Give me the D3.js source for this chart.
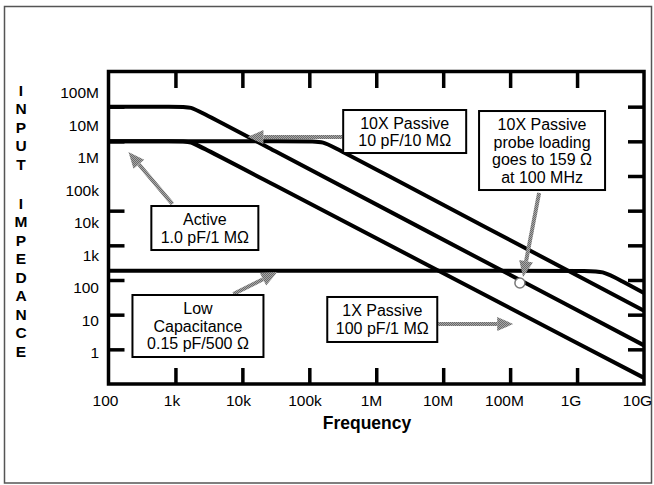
<!DOCTYPE html>
<html>
<head>
<meta charset="utf-8">
<script src="https://cdn.jsdelivr.net/npm/d3@7"></script>
<style>
body { margin: 0; background: #fff; }
svg { display: block; }
text { font-family: "Liberation Sans", Arial, sans-serif; }
</style>
</head>
<body>
<div id="chart"></div>
<script>
var width = 654;
var height = 485;

var plotLeft = 108.5;
var plotRight = 644;
var plotTop = 72;
var plotBottom = 384;
var tickLength = 16;

// axis values and labels
var freqTicks = [100, 1e3, 1e4, 1e5, 1e6, 1e7, 1e8, 1e9, 1e10];
var freqLabels = ["100", "1k", "10k", "100k", "1M", "10M", "100M", "1G", "10G"];
var freqInnerTicks = [1e3, 1e4, 1e5, 1e6, 1e7, 1e8, 1e9];

var impTicks = [1, 10, 100, 1e3, 1e4, 1e5, 1e6, 1e7, 1e8];
var impLabels = ["1", "10", "100", "1k", "10k", "100k", "1M", "10M", "100M"];
var impRightTicks = [1, 10, 100, 1e3, 1e4, 1e5, 1e6, 1e7];
var impLeftTicks = [1, 10, 100, 1e3, 1e4, 1e6, 1e7];

// curves: [frequency Hz, impedance ohm]
var passive10x = [[100, 1e7], [1.1e3, 1e7], [1.7e3, 1e7], [2.7e3, 6.2e6], [1e10, 1.3]];
var passive1x = [[100, 1e6], [1.1e3, 1e6], [1.7e3, 1e6], [2.7e3, 6.2e5], [1e10, 0.15]];
var activeProbe = [[100, 1e6], [1.0e5, 1e6], [1.6e5, 1e6], [2.6e5, 6.1e5], [1e10, 13]];
var lowCap = [[100, 185], [1.3e9, 185], [2.4e9, 185], [4.6e9, 94], [1e10, 42]];

// marked point on the 10X curve
var markedPoint = [1.4e8, 82];

// annotation boxes: text lines, centre [freq, ohm], box size in px
var boxLines = [
    ["10X Passive", "10 pF/10 M\u03A9"],
    ["10X Passive", "probe loading", "goes to 159 \u03A9", "at 100 MHz"],
    ["Active", "1.0 pF/1 M\u03A9"],
    ["Low", "Capacitance", "0.15 pF/500 \u03A9"],
    ["1X Passive", "100 pF/1 M\u03A9"]
];
var boxCentres = [[2.66e6, 1.92e6], [3.0e8, 5.43e5], [2.75e3, 3.16e3], [2.17e3, 4.71], [1.23e6, 7.26]];
var boxSizes = [[123, 43], [126, 79], [107, 44], [131, 62], [110, 45]];

// arrows: tail and tip in [freq, ohm]
var arrowTails = [[3.1e5, 1.33e6], [2.71e8, 3.24e4], [902, 1.56e4], [7.35e3, 39.5], [8.41e6, 5.38]];
var arrowTips = [[1.19e4, 1.33e6], [1.56e8, 122], [199, 4.92e5], [3.33e4, 170], [1.11e8, 5.38]];

var svg = d3.select("#chart").append("svg")
    .attr("width", width)
    .attr("height", height);

// dithered grey used by the arrows
var pattern = svg.append("defs").append("pattern")
    .attr("id", "dither")
    .attr("patternUnits", "userSpaceOnUse")
    .attr("width", 2)
    .attr("height", 2);
pattern.append("rect").attr("width", 2).attr("height", 2).attr("fill", "#a8a8a8");
pattern.append("rect").attr("width", 1).attr("height", 1).attr("fill", "#6a6a6a");
pattern.append("rect").attr("x", 1).attr("y", 1).attr("width", 1).attr("height", 1).attr("fill", "#6a6a6a");

// outer border
svg.append("rect")
    .attr("x", 4.5)
    .attr("y", 6.5)
    .attr("width", 647)
    .attr("height", 476.5)
    .attr("fill", "none")
    .attr("stroke", "#555")
    .attr("stroke-width", 1.5);

var x = d3.scaleLog().domain([100, 1e10]).range([plotLeft, plotRight]);
var y = d3.scaleLog().domain([0.1, 1e8]).range([plotBottom, plotTop]);

// label scales (the labels drift slightly from the ticks in the original)
var xLabel = d3.scaleLog().domain([100, 1e10]).range([105, 637]);
var yLabel = d3.scaleLog().domain([1, 1e8]).range([353, 93]);

var line = d3.line()
    .x(function (d) { return x(d[0]); })
    .y(function (d) { return y(d[1]); })
    .curve(d3.curveBasis);

[passive10x, passive1x, activeProbe, lowCap].forEach(function (curve) {
    svg.append("path")
        .datum(curve)
        .attr("d", line)
        .attr("fill", "none")
        .attr("stroke", "#000")
        .attr("stroke-width", 4);
});

function styleTicks(g) {
    g.select(".domain").remove();
    g.selectAll(".tick line").attr("stroke", "#000").attr("stroke-width", 3.5);
}

svg.append("g")
    .attr("transform", "translate(0," + plotBottom + ")")
    .call(d3.axisTop(x).tickValues(freqInnerTicks).tickSize(tickLength).tickFormat(""))
    .call(styleTicks);
svg.append("g")
    .attr("transform", "translate(0," + plotTop + ")")
    .call(d3.axisBottom(x).tickValues(freqInnerTicks).tickSize(tickLength).tickFormat(""))
    .call(styleTicks);
svg.append("g")
    .attr("transform", "translate(" + plotLeft + ",0)")
    .call(d3.axisRight(y).tickValues(impLeftTicks).tickSize(tickLength).tickFormat(""))
    .call(styleTicks);
svg.append("g")
    .attr("transform", "translate(" + plotRight + ",0)")
    .call(d3.axisLeft(y).tickValues(impRightTicks).tickSize(tickLength).tickFormat(""))
    .call(styleTicks);

// frame
svg.append("rect")
    .attr("x", plotLeft)
    .attr("y", plotTop - 0.5)
    .attr("width", plotRight - plotLeft)
    .attr("height", plotBottom - plotTop + 0.5)
    .attr("fill", "none")
    .attr("stroke", "#000")
    .attr("stroke-width", 3.5);

// tick labels
var xLab = svg.append("g")
    .attr("transform", "translate(0,394.5)")
    .call(d3.axisBottom(xLabel).tickValues(freqTicks).tickSize(0).tickPadding(0)
        .tickFormat(function (d, i) { return freqLabels[i]; }));
xLab.select(".domain").remove();
xLab.selectAll("text").attr("font-family", "Liberation Sans, Arial, sans-serif")
    .attr("font-size", "15.5px").attr("fill", "#000");

var yLab = svg.append("g")
    .attr("transform", "translate(99,0)")
    .call(d3.axisLeft(yLabel).tickValues(impTicks).tickSize(0).tickPadding(0)
        .tickFormat(function (d, i) { return impLabels[i]; }));
yLab.select(".domain").remove();
yLab.selectAll("text").attr("font-family", "Liberation Sans, Arial, sans-serif")
    .attr("font-size", "15.5px").attr("fill", "#000");

// axis titles
svg.append("text")
    .attr("x", 367)
    .attr("y", 423)
    .attr("dy", "0.35em")
    .attr("text-anchor", "middle")
    .attr("font-size", "17.5px")
    .attr("font-weight", "bold")
    .text("Frequency");

var titleWords = [["INPUT", 90], ["IMPEDANCE", 203]];
titleWords.forEach(function (w) {
    w[0].split("").forEach(function (ch, i) {
        svg.append("text")
            .attr("x", 21)
            .attr("y", w[1] + i * 18.5)
            .attr("dy", "0.36em")
            .attr("text-anchor", "middle")
            .attr("font-size", "15.5px")
            .attr("font-weight", "bold")
            .text(ch);
    });
});

// arrows
var arrowColour = "url(#dither)";
var headLength = 16;
var headHalfWidth = 7;

function addArrow(tail, tip) {
    var x1 = x(tail[0]), y1 = y(tail[1]);
    var x2 = x(tip[0]), y2 = y(tip[1]);
    var angle = Math.atan2(y2 - y1, x2 - x1);
    var bx = x2 - headLength * Math.cos(angle);
    var by = y2 - headLength * Math.sin(angle);
    svg.append("line")
        .attr("x1", x1).attr("y1", y1)
        .attr("x2", bx).attr("y2", by)
        .attr("stroke", arrowColour)
        .attr("stroke-width", 4);
    var px = -Math.sin(angle) * headHalfWidth;
    var py = Math.cos(angle) * headHalfWidth;
    svg.append("polygon")
        .attr("points", [[x2, y2], [bx + px, by + py], [bx - px, by - py]].join(" "))
        .attr("fill", arrowColour);
}

for (var i = 0; i < arrowTails.length; i++) {
    addArrow(arrowTails[i], arrowTips[i]);
}

// marked point
svg.append("circle")
    .attr("cx", x(markedPoint[0]))
    .attr("cy", y(markedPoint[1]))
    .attr("r", 5)
    .attr("fill", "#fff")
    .attr("stroke", "#777")
    .attr("stroke-width", 1.5);

// annotation boxes
var lineHeight = 17.5;
boxLines.forEach(function (lines, i) {
    var cx = x(boxCentres[i][0]);
    var cy = y(boxCentres[i][1]);
    var w = boxSizes[i][0], h = boxSizes[i][1];
    svg.append("rect")
        .attr("x", cx - w / 2)
        .attr("y", cy - h / 2)
        .attr("width", w)
        .attr("height", h)
        .attr("fill", "#fff")
        .attr("stroke", "#000")
        .attr("stroke-width", 2);
    var startY = cy - (lines.length - 1) * lineHeight / 2;
    lines.forEach(function (t, j) {
        svg.append("text")
            .attr("x", cx)
            .attr("y", startY + j * lineHeight)
            .attr("dy", "0.36em")
            .attr("text-anchor", "middle")
            .attr("font-size", "16px")
            .text(t);
    });
});
</script>
</body>
</html>
